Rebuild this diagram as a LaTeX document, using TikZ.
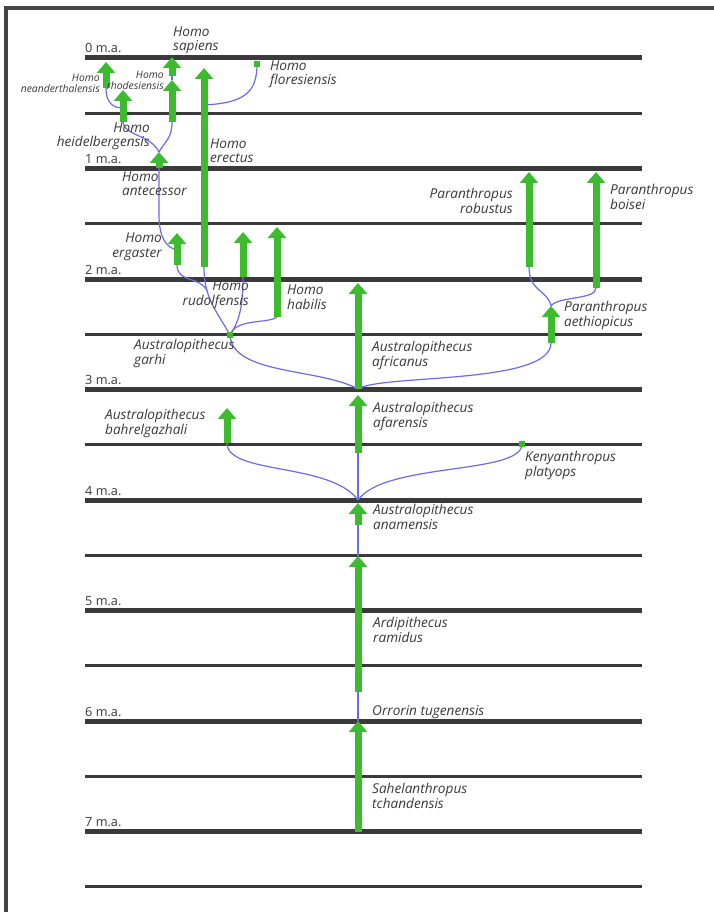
\documentclass[tikz,border=0pt]{standalone}
\usepackage{fontspec}
\setmainfont{Open Sans}
\usetikzlibrary{arrows.meta}
\definecolor{rule}{HTML}{3A3A3A}
\definecolor{framegray}{HTML}{444444}
\definecolor{stem}{HTML}{3DBB2E}
\definecolor{branchblue}{HTML}{6B6BEE}
\definecolor{ink}{HTML}{3A3A3A}
\begin{document}
\begin{tikzpicture}[x=1pt,y=-1pt,
  major/.style={draw=rule,line width=5pt},
  minor/.style={draw=rule,line width=2.6pt},
  species/.style={draw=stem,line width=7pt,-{Triangle[width=18pt,length=11pt]}},
  branch/.style={draw=branchblue,line width=1.2pt},
  dot/.style={fill=stem,shape=rectangle,minimum size=6pt,inner sep=0pt},
  tick/.style={font=\fontsize{12.7}{14}\selectfont,text=ink,inner sep=0pt,anchor=base west},
  lbl/.style={font=\itshape\fontsize{13.6}{14.5}\selectfont,text=ink,inner sep=0pt,align=left},
  lblr/.style={font=\itshape\fontsize{13.6}{14.5}\selectfont,text=ink,inner sep=0pt,align=right},
  small/.style={font=\itshape\fontsize{10.4}{11}\selectfont,text=ink,inner sep=0pt,align=right},
]
\useasboundingbox (0,0) rectangle (714,912);
\fill[white] (0,0) rectangle (714,912);
% frame
\draw[framegray,line width=4pt] (5.5,912) -- (5.5,8) -- (714,8);

% time scale
\foreach \t in {0,...,7}{
  \draw[major] (85,{58+110.5*\t}) -- (642,{58+110.5*\t});
  \draw[minor] (85,{113.25+110.5*\t}) -- (642,{113.25+110.5*\t});
  \node[tick] (ma\t) at (85,{53+110.5*\t}) {\t\ m.a.};
}

% lineage end points (bottom = first appearance, top = last appearance)
\coordinate (sah0) at (358,832); \coordinate (sah1) at (358,721);
\coordinate (ard0) at (358,692); \coordinate (ard1) at (358,556);
\coordinate (ana0) at (358,525); \coordinate (ana1) at (358,503);
\coordinate (j4)   at (358,500);
\coordinate (afa0) at (358,453); \coordinate (afa1) at (358,395);
\coordinate (j3)   at (358,389);
\coordinate (afr0) at (358,389); \coordinate (afr1) at (358,283);
\coordinate (bah0) at (227,443); \coordinate (bah1) at (227,408);
\coordinate (aet0) at (551,343); \coordinate (aet1) at (551,306);
\coordinate (rob0) at (529,267); \coordinate (rob1) at (529,172);
\coordinate (boi0) at (596,288); \coordinate (boi1) at (596,172);
\coordinate (hab0) at (277,317); \coordinate (hab1) at (277,227);
\coordinate (rud0) at (243,277); \coordinate (rud1) at (243,232);
\coordinate (ere0) at (204,267); \coordinate (ere1) at (204,68);
\coordinate (ereMid) at (204,105);
\coordinate (erg0) at (177,265); \coordinate (erg1) at (177,233);
\coordinate (ergMid) at (177,250);
\coordinate (ant0) at (159,168); \coordinate (ant1) at (159,152);
\coordinate (antLow) at (159,215);
\coordinate (hei0) at (123,122); \coordinate (hei1) at (123,90);
\coordinate (heiMid) at (123,108);
\coordinate (nea0) at (106,88);  \coordinate (nea1) at (106,62);
\coordinate (rho0) at (172,122); \coordinate (rho1) at (172,80);
\coordinate (sap0) at (172,76);  \coordinate (sap1) at (172,57);

% isolated finds
\node[dot] (flo) at (257,64) {};
\node[dot] (garhi) at (230,335) {};
\node[dot] (kenya) at (522,444) {};

% ancestry links
\draw[branch] (sah1) -- (ard0);
\draw[branch] (ard1) -- (ana0);
\draw[branch] (j4) -- (afa0);
\draw[branch] (j4) .. controls (330,462) and (227,475) .. (bah0);
\draw[branch] (j4) .. controls (385,462) and (522,475) .. (kenya.center);
\draw[branch] (j3) .. controls (320,368) and (232,375) .. (garhi.center);
\draw[branch] (j3) .. controls (380,374) and (551,385) .. (aet0);
\draw[branch] (aet1) .. controls (548,290) and (529,292) .. (rob0);
\draw[branch] (aet1) .. controls (558,296) and (596,300) .. (boi0);
\draw[branch] (garhi.center) .. controls (240,320) and (243,305) .. (rud0);
\draw[branch] (garhi.center) .. controls (236,318) and (268,324) .. (hab0);
\draw[branch] (ere0) .. controls (204,298) and (216,310) .. coordinate[pos=0.3] (ergJoin) (garhi.center);
\draw[branch] (erg0) .. controls (177,283) and (200,276) .. (ergJoin);
\draw[branch] (ant0) -- (antLow) .. controls (159,240) and (168,248) .. (ergMid);
\draw[branch] (ant1) .. controls (150,134) and (124,136) .. (hei0);
\draw[branch] (ant1) .. controls (166,140) and (172,138) .. (rho0);
\draw[branch] (nea0) .. controls (106,104) and (114,108) .. (heiMid);
\draw[branch] (rho1) -- (sap0);
\draw[branch] (ereMid) .. controls (245,103) and (257,92) .. (flo.center);

% species ranges
\foreach \s in {sah,ard,ana,afa,afr,bah,aet,rob,boi,hab,rud,ere,erg,ant,hei,nea,rho,sap}
  \draw[species] (\s0) -- (\s1);
\node[dot] at (flo) {};
\node[dot] at (garhi) {};
\node[dot] at (kenya) {};

% species names (anchored on the baseline of their last line)
\node[lbl,anchor=base west] (tsap) at (173,51) {Homo\\sapiens};
\node[lbl,anchor=base west] (tflo) at (270,85) {Homo\\floresiensis};
\node[small,anchor=base east] (tnea) at (100,93) {Homo\\neanderthalensis};
\node[small,anchor=base east] (trho) at (164,90) {Homo\\rhodesiensis};
\node[lblr,anchor=base east] (thei) at (150,147) {Homo\\heidelbergensis};
\node[lbl,anchor=base west] (tere) at (210,163) {Homo\\erectus};
\node[lbl,anchor=base west] (tant) at (122,196) {Homo\\antecessor};
\node[lblr,anchor=base east] (terg) at (162,257) {Homo\\ergaster};
\node[lblr,anchor=base east] (trud) at (249,305) {Homo\\rudolfensis};
\node[lbl,anchor=base west] (thab) at (287,309) {Homo\\habilis};
\node[lbl,anchor=base west] (tgar) at (134,364) {Australopithecus\\garhi};
\node[lbl,anchor=base west] (tafr) at (372,366) {Australopithecus\\africanus};
\node[lblr,anchor=base east] (trob) at (513,213) {Paranthropus\\robustus};
\node[lbl,anchor=base west] (tboi) at (610,209) {Paranthropus\\boisei};
\node[lbl,anchor=base west] (taet) at (564,326) {Paranthropus\\aethiopicus};
\node[lbl,anchor=base west] (tbah) at (105,434) {Australopithecus\\bahrelgazhali};
\node[lbl,anchor=base west] (tafa) at (373,427) {Australopithecus\\afarensis};
\node[lbl,anchor=base west] (tken) at (525,476) {Kenyanthropus\\platyops};
\node[lbl,anchor=base west] (tana) at (373,529) {Australopithecus\\anamensis};
\node[lbl,anchor=base west] (tard) at (373,642) {Ardipithecus\\ramidus};
\node[lbl,anchor=base west] (torr) at (372,715) {Orrorin tugenensis};
\node[lbl,anchor=base west] (tsah) at (372,808) {Sahelanthropus\\tchandensis};
\end{tikzpicture}
\end{document}
